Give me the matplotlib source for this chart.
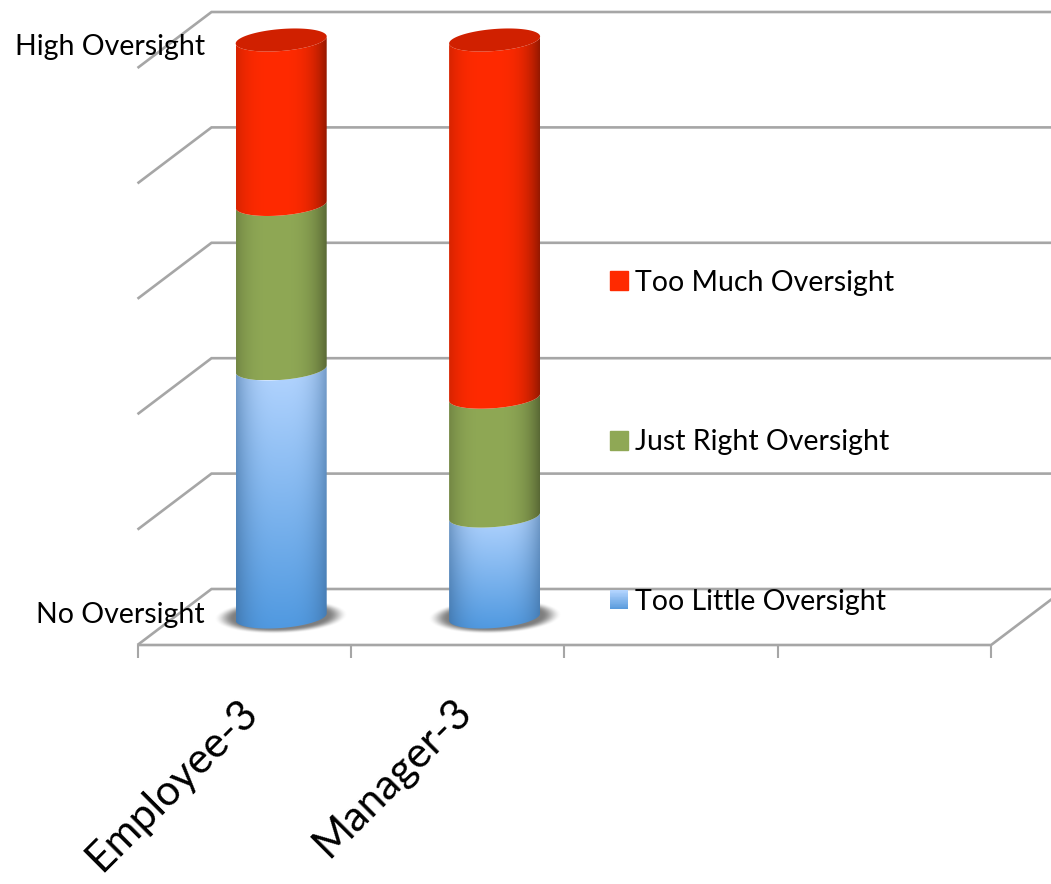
import numpy as np
import matplotlib
matplotlib.use("Agg")
import matplotlib.pyplot as plt
from matplotlib.legend_handler import HandlerBase
from matplotlib.patches import Polygon, Rectangle
from matplotlib.transforms import ScaledTranslation
from matplotlib.colors import to_rgb

plt.rcParams["font.family"] = ["Lato", "DejaVu Sans"]

# Stacked shares per respondent group, percent
categories = ["Employee-3", "Manager-3"]
series_names = ["Too Little Oversight", "Just Right Oversight", "Too Much Oversight"]
too_little = [43.0, 17.5]
just_right = [28.5, 20.6]
too_much = [28.5, 61.9]
value_ticks = [0, 20, 40, 60, 80, 100]
value_tick_labels = {0: "No Oversight", 100: "High Oversight"}

W, H = 1051, 884
fig = plt.figure(figsize=(W / 100, H / 100), dpi=100)
ax = fig.add_axes([137.5 / W, (H - 645) / H, 853.6 / W, 577 / H])
ax.set_xlim(0, 4)
ax.set_ylim(0, 100)

PX_X = 213.4          # pixels per category slot
PX_Y = 5.77           # pixels per percentage point
DEPTH_X = 74 / PX_X   # oblique depth of the floor and side wall
DEPTH_Y = 56 / PX_Y
RX = 45.5 / PX_X      # cylinder radius
RY = 11 / PX_Y        # foreshortened cylinder radius
TILT = 3.5 / PX_Y     # rise of the ellipse towards its right end

GRID = "#A6A6A6"
GRID_LW = 1.9


def line(xs, ys, z=1):
    ax.plot(xs, ys, color=GRID, lw=GRID_LW, zorder=z, clip_on=False,
            solid_capstyle="butt", solid_joinstyle="miter")


# Walls and floor of the oblique frame
for v in value_ticks:
    line([0, DEPTH_X, 4 + DEPTH_X], [v, v + DEPTH_Y, v + DEPTH_Y])
line([0, 4, 4 + DEPTH_X], [0, 0, DEPTH_Y])
for spine in ax.spines.values():
    spine.set_visible(False)
ax.patch.set_visible(False)


def ellipse_xy(cx, cy, t):
    return cx + RX * np.cos(t), cy + RY * np.sin(t) + TILT * np.cos(t)


def side_polygon(cx, y0, y1):
    t = np.linspace(np.pi, 2 * np.pi, 80)
    x0s, y0s = ellipse_xy(cx, y0, t)
    x1s, y1s = ellipse_xy(cx, y1, t[::-1])
    return np.column_stack([np.r_[x0s, x1s], np.r_[y0s, y1s]])


def horizontal_shade(n, depth_l, depth_r):
    u = np.linspace(-1, 1, n)
    s = np.where(u < 0, 1 - depth_l * (np.abs(u + 0.1) / 1.1) ** 3.2,
                 1 - depth_r * (np.abs(u + 0.1) / 1.1) ** 3.2)
    return np.clip(s, 0, 1)


def flat_texture(color, depth_l, depth_r):
    shade = horizontal_shade(256, depth_l, depth_r)
    return (np.array(to_rgb(color))[None, None, :] * shade[None, :, None])


def blue_texture():
    v = np.linspace(0, 1, 128)[:, None]      # 0 at top
    top = np.array(to_rgb("#B4D5FF"))
    bottom = np.array(to_rgb("#5099E0"))
    base = top[None, None, :] * (1 - v[..., None]) + bottom[None, None, :] * v[..., None]
    base = np.repeat(base, 256, axis=1)
    u = np.linspace(-1, 1, 256)[None, :]
    edge = (np.abs(u) ** 3.0)[..., None]
    edge_col = np.array(to_rgb("#3A6796"))[None, None, :]
    soft = 0.62 * edge * (0.85 + 0.15 * v[..., None])
    return base * (1 - soft) + edge_col * soft


def draw_side(cx, y0, y1, texture):
    verts = side_polygon(cx, y0, y1)
    ymin, ymax = verts[:, 1].min(), verts[:, 1].max()
    im = ax.imshow(texture, extent=[cx - RX, cx + RX, ymin, ymax],
                   origin="upper", aspect="auto", zorder=4, interpolation="bilinear")
    clip = Polygon(verts, closed=True, transform=ax.transData)
    im.set_clip_path(clip)
    im.set_clip_box(fig.bbox)


def draw_shadow(cx, cy):
    hw, hh = 67 / PX_X, 17 / PX_Y
    xs = np.linspace(-1, 1, 260)
    ys = np.linspace(1, -1, 64)
    gx, gy = np.meshgrid(xs, ys)
    r = np.sqrt(gx ** 2 + (gy - 0.12 * gx) ** 2)
    alpha = np.clip((1 - r) / 0.30, 0, 1)
    alpha = alpha * alpha * (3 - 2 * alpha) * 0.72
    rgba = np.zeros(gx.shape + (4,))
    rgba[..., :3] = 0.30
    rgba[..., 3] = alpha
    im = ax.imshow(rgba, extent=[cx - hw, cx + hw, cy - hh, cy + hh],
                   origin="upper", aspect="auto", zorder=2, interpolation="bilinear")
    im.set_clip_box(fig.bbox)


# Cylinders, stacked from the floor upward
red_tex = flat_texture("#FF2A00", 0.30, 0.42)
green_tex = flat_texture("#8FA855", 0.38, 0.38)
blue_tex = blue_texture()
for i, name in enumerate(categories):
    cx = i + 0.5 + DEPTH_X / 2
    base = DEPTH_Y / 2
    draw_shadow(cx, base)
    c1 = too_little[i]
    c2 = c1 + just_right[i]
    c3 = c2 + too_much[i]
    draw_side(cx, base, base + c1, blue_tex)
    draw_side(cx, base + c1, base + c2, green_tex)
    draw_side(cx, base + c2, base + c3, red_tex)
    t = np.linspace(0, 2 * np.pi, 120)
    ex, ey = ellipse_xy(cx, base + c3, t)
    ax.add_patch(Polygon(np.column_stack([ex, ey]), closed=True, facecolor="#D02000",
                         edgecolor="none", zorder=5, clip_on=False))

ax.set_xlim(0, 4)
ax.set_ylim(0, 100)

# Category slots: tick marks on the boundaries, names at the slot centres
ax.set_xticks([0, 1, 2, 3, 4])
ax.set_xticklabels([])
ax.tick_params(axis="x", which="major", length=9.5, width=GRID_LW * 0.8, color=GRID)
ax.set_xticks([0.5, 1.5], minor=True)
ax.set_xticklabels(categories, minor=True, rotation=45, ha="right", va="top",
                   rotation_mode="anchor", fontsize=30.5)
ax.tick_params(axis="x", which="minor", length=0, pad=34)
for tick in ax.xaxis.get_minor_ticks():
    tick.label1.set_transform(tick.label1.get_transform()
                              + ScaledTranslation(-6 / 100, 0, fig.dpi_scale_trans))

# Value scale names sit on the front edge of the side wall
ax.set_yticks(list(value_tick_labels))
ax.set_yticklabels(list(value_tick_labels.values()), fontsize=20.5, ha="right")
ax.tick_params(axis="y", length=0, pad=-48.5)
for tick, dy_px in zip(ax.yaxis.get_major_ticks(), (32, 24)):
    tick.label1.set_transform(tick.label1.get_transform()
                              + ScaledTranslation(0, dy_px / 100, fig.dpi_scale_trans))


class GradientSquare(HandlerBase):
    def __init__(self, top, bottom):
        super().__init__()
        self.top, self.bottom = np.array(to_rgb(top)), np.array(to_rgb(bottom))

    def create_artists(self, legend, orig, xd, yd, width, height, fontsize, trans):
        n = 24
        out = []
        for k in range(n):
            f = k / (n - 1)
            col = self.top * (1 - f) + self.bottom * f
            out.append(Rectangle((xd * -1, -yd + height * (1 - (k + 1) / n)), width,
                                 height / n + 0.3, facecolor=col, edgecolor="none",
                                 transform=trans))
        return out


handles = [Rectangle((0, 0), 1, 1, color=c) for c in ("#FF2A00", "#8FA855", "#7FB3EE")]
labels = series_names[::-1]
fig.legend(handles, labels, loc="upper left", bbox_to_anchor=(610 / W, 1 - 269.5 / H),
           frameon=False, fontsize=20.5, handlelength=0.63, handleheight=0.63,
           handletextpad=0.26, labelspacing=4.7, borderpad=0, borderaxespad=0,
           handler_map={handles[2]: GradientSquare("#B4D5FF", "#5A9BDC")})

fig.savefig("out.png", dpi=100, facecolor="white")
